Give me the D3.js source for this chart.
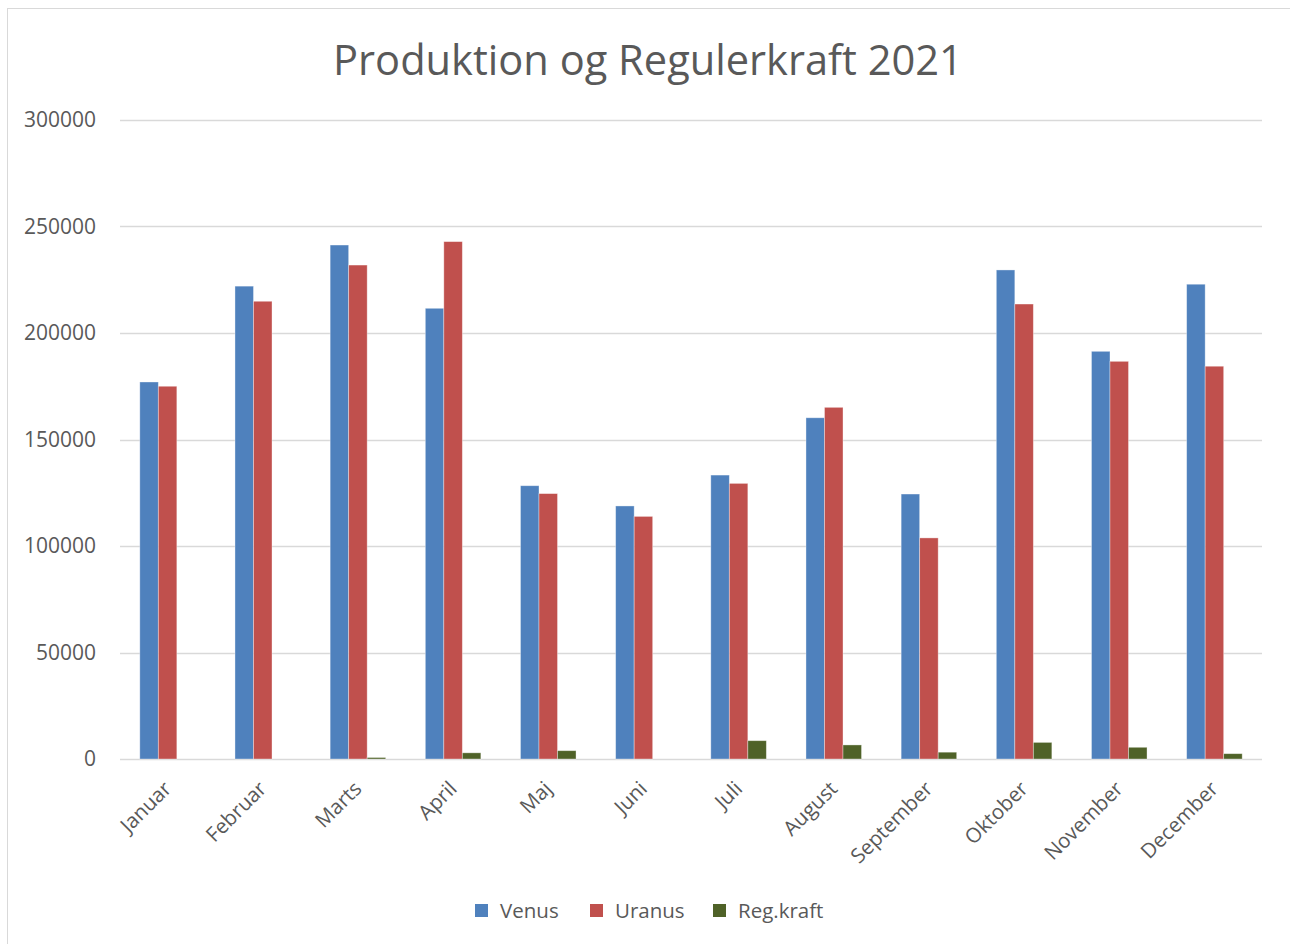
<!DOCTYPE html>
<html>
<head>
<meta charset="utf-8">
<script src="https://cdn.jsdelivr.net/npm/d3@7"></script>
<style>
  html, body { margin: 0; padding: 0; background: #fff; }
  svg { display: block; }
  text { font-family: "Open Sans", "Liberation Sans", sans-serif; fill: #595959; }
</style>
</head>
<body>
<svg id="chart" width="1290" height="944"></svg>
<script>
const title = "Produktion og Regulerkraft 2021";
const months = ["Januar","Februar","Marts","April","Maj","Juni","Juli","August","September","Oktober","November","December"];
const seriesNames = ["Venus","Uranus","Reg.kraft"];
const seriesColors = ["#4f81bd","#c0504d","#4f6228"];
const venus   = [177000, 222000, 241300, 211600, 128300, 118800, 133300, 160200, 124400, 229600, 191400, 222900];
const uranus  = [175000, 214900, 231900, 242900, 124600, 113900, 129400, 165100, 103800, 213600, 186700, 184400];
const regkraft= [0, 0, 700, 2900, 3900, 0, 8600, 6600, 3200, 7800, 5500, 2500];
const yTicks  = [0, 50000, 100000, 150000, 200000, 250000, 300000];

const svg = d3.select("#chart");

// chart frame
svg.append("rect").attr("x", 7.5).attr("y", 8.5).attr("width", 1300).attr("height", 1000)
  .attr("fill", "#fff").attr("stroke", "#d9d9d9").attr("stroke-width", 1);

const plot = {left: 120, right: 1262, top: 120, bottom: 759};

const x0 = d3.scaleBand().domain(months).range([plot.left, plot.right]).paddingInner(0).paddingOuter(0);
const x1 = d3.scaleBand().domain(seriesNames).range([0, x0.bandwidth()]).paddingInner(0).paddingOuter(1.07);
const y = d3.scaleLinear().domain([0, 300000]).range([plot.bottom, plot.top]);

// gridlines
svg.append("g").selectAll("line").data(yTicks).join("line")
  .attr("x1", plot.left).attr("x2", plot.right)
  .attr("y1", d => Math.round(y(d)) + 0.5).attr("y2", d => Math.round(y(d)) + 0.5)
  .attr("stroke", "#d9d9d9").attr("stroke-width", 1.3);

// y labels
svg.append("g").selectAll("text").data(yTicks).join("text")
  .attr("x", 96).attr("y", d => y(d)).attr("dy", "0.35em")
  .attr("text-anchor", "end").style("font-size", "21px")
  .text(d => d3.format("d")(d));

// bars
const data = months.map((m, i) => ({month: m, vals: [venus[i], uranus[i], regkraft[i]]}));
const groups = svg.append("g").selectAll("g").data(data).join("g")
  .attr("transform", d => `translate(${x0(d.month)},0)`);
groups.selectAll("rect").data(d => d.vals.map((v, k) => ({v, k})).filter(e => e.v > 0)).join("rect")
  .attr("x", e => x1(seriesNames[e.k]))
  .attr("width", x1.bandwidth())
  .attr("y", e => y(e.v))
  .attr("height", e => y(0) - y(e.v))
  .attr("fill", e => seriesColors[e.k])
  .attr("stroke", "rgba(255,255,255,0.45)").attr("stroke-width", 0.8);

// x labels
svg.append("g").selectAll("text").data(months).join("text")
  .attr("text-anchor", "end")
  .attr("transform", m => `translate(${x0(m) + x0.bandwidth()/2 + 5},${plot.bottom + 31}) rotate(-45)`)
  .style("font-size", "20.5px")
  .text(m => m);

// title
svg.append("text").attr("x", 648).attr("y", 75).attr("text-anchor", "middle")
  .style("font-size", "40px").text(title);

// legend
const legendX = [475, 590, 713];
const lg = svg.append("g").selectAll("g").data(seriesNames).join("g")
  .attr("transform", (d, i) => `translate(${legendX[i]},904)`);
lg.append("rect").attr("width", 13).attr("height", 13).attr("fill", (d, i) => seriesColors[i]);
lg.append("text").attr("x", 25).attr("y", 7).attr("dy", "0.35em").style("font-size", "20.5px").text(d => d);

// fit title font size to reference width
function fit(sel, target) {
  sel.each(function() {
    const fs = parseFloat(this.style.fontSize);
    const w = this.getComputedTextLength();
    this.style.fontSize = (fs * target / w).toFixed(2) + "px";
  });
}
fit(svg.selectAll("text").filter(function(){ return this.textContent === title; }), 630);
</script>
</body>
</html>
